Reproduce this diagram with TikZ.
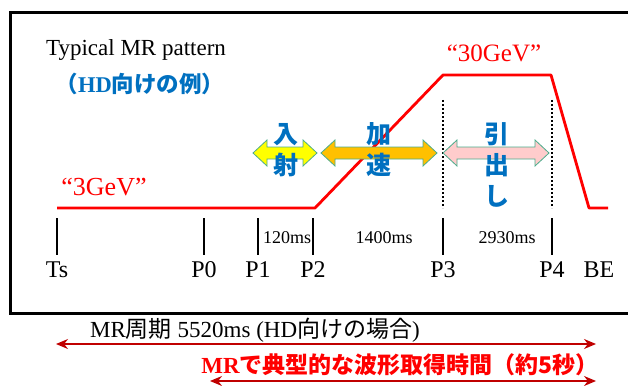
\documentclass[tikz,border=0pt]{standalone}
\usepackage{fontspec}
\setmainfont{Liberation Serif}
\newfontfamily\jp{Noto Sans CJK JP}
\usetikzlibrary{positioning}
\usetikzlibrary{arrows.meta}

\definecolor{mrblue}{RGB}{0,112,192}
\definecolor{mrred}{RGB}{255,0,0}
\definecolor{darkred}{RGB}{192,0,0}
\definecolor{arrline}{RGB}{75,172,140}
\definecolor{injyellow}{RGB}{255,255,0}
\definecolor{accorange}{RGB}{255,192,0}
\definecolor{extpink}{RGB}{255,204,204}

% fat double arrow: x1, x2, y, fill
\newcommand{\fatarrow}[4]{%
  \filldraw[fill=#4, draw=arrline, line width=0.8pt]
    (#1,#3) -- ++(14,-13) -- ++(0,7) -- (#2-14,#3-6) -- ++(0,-7) -- (#2,#3)
    -- (#2-14,#3+13) -- ++(0,-7) -- (#1+14,#3+6) -- ++(0,7) -- cycle;}

\begin{document}
\begin{tikzpicture}[x=1pt,y=-1pt,
  tick/.style={line width=2.5pt},
  ticklbl/.style={font=\fontsize{24}{24}\selectfont, inner sep=0pt},
  mslbl/.style={font=\fontsize{18}{18}\selectfont, inner sep=0pt},
  stagelbl/.style={font=\jp\bfseries\fontsize{25}{31}\selectfont, text=mrblue, align=center, inner sep=0pt},
  dotline/.style={line width=2.5pt, dash pattern=on 2pt off 2pt},
  spanarrow/.style={darkred, line width=1.2pt, {Stealth[length=12pt,width=10pt]}-{Stealth[length=12pt,width=10pt]}}]
\useasboundingbox (0,0) rectangle (628,385);

% frame
\draw[line width=3pt] (632,13) -- (10,13) -- (10,313) -- (632,313);

\node[font=\fontsize{23}{23}\selectfont, inner sep=0pt] (title) at (136,50) {Typical MR pattern};
\node[font=\bfseries\fontsize{22.5}{22.5}\selectfont, text=mrblue, inner sep=0pt] (hdex) at (140,84) {{\jp（}HD{\jp 向けの例）}};

% magnet pattern
\draw[mrred, line width=2.8pt, line join=round] (57,208) -- (315,208) -- (443,75) -- (551,75) -- (589,208) -- (608,208);
\node[font=\fontsize{26}{26}\selectfont, text=mrred, inner sep=0pt] (low) at (104,187) {``3GeV''};
\node[font=\fontsize{25}{25}\selectfont, text=mrred, inner sep=0pt] (high) at (494,53) {``30GeV''};

% dotted markers
\draw[dotline] (443,100) -- (443,208);
\draw[dotline] (552,100) -- (552,208);

% timing ticks
\foreach \x/\n in {57/Ts,204/P0,258/P1,313/P2,443/P3,552/P4}{
  \draw[tick] (\x,218) -- (\x,255);
  \node[ticklbl] (\n) at (\x,270) {\n};
}
\node[ticklbl] (BE) at (599,270) {BE};

\node[mslbl] (t12) at (287,238) {120ms};
\node[mslbl] (t23) at (384,238) {1400ms};
\node[mslbl] (t34) at (507,238) {2930ms};

% stages
\fatarrow{253}{317}{153}{injyellow}
\fatarrow{321}{437}{153}{accorange}
\fatarrow{443}{549}{153}{extpink}
\node[stagelbl] (inj) at (286,150) {入\\射};
\node[stagelbl] (acc) at (379,150) {加\\速};
\node[stagelbl] (ext) at (497,165) {引\\出\\し};

% cycle
\coordinate (cycA) at (56,344);
\coordinate (cycB) at (596,344);
\draw[spanarrow] (cycA) -- (cycB);
\node[font=\fontsize{23}{23}\selectfont, inner sep=0pt] (cyc) at (255,330) {MR{\jp 周期} 5520ms (HD{\jp 向けの場合})};

\coordinate (wfA) at (210,381);
\coordinate (wfB) at (596,381);
\draw[spanarrow] (wfA) -- (wfB);
\node[font=\bfseries\fontsize{23}{23}\selectfont, text=mrred, inner sep=0pt] (wf) at (400,365) {MR{\jp で典型的な波形取得時間（約5秒）}};

\end{tikzpicture}
\end{document}
